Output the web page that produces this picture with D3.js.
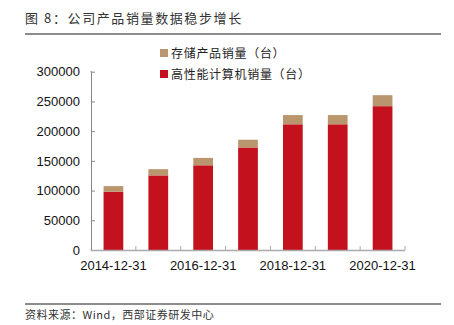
<!DOCTYPE html>
<html><head><meta charset="utf-8">
<script src="https://cdn.jsdelivr.net/npm/d3@7/dist/d3.min.js"></script>
<style>body{margin:0;background:#fff;}svg{display:block;}</style>
</head><body>
<svg id="c" width="454" height="325"></svg>
<script>
const categories = ["2014-12-31","2015-12-31","2016-12-31","2017-12-31","2018-12-31","2019-12-31","2020-12-31"];
const hpcSales = [98000, 125500, 142500, 172500, 211500, 211500, 242000];
const storageSales = [9500, 10500, 12500, 13000, 15500, 15500, 18500];
const yTicks = [0, 50000, 100000, 150000, 200000, 250000, 300000];
const xLabels = ["2014-12-31","2016-12-31","2018-12-31","2020-12-31"];
const seriesNames = ["存储产品销量（台）", "高性能计算机销量（台）"];

(function () {
const svg = d3.select("#c");
const cjk = "'Noto Sans CJK SC', sans-serif";
const lat = "'Liberation Sans', Arial, sans-serif";
const red = "#c4111e", tan = "#b9966e";

// title
svg.append("text").attr("x", 25).attr("y", 23).attr("font-family", cjk).attr("font-size", 13)
  .attr("letter-spacing", 1.6).attr("fill", "#333").text("图 8：公司产品销量数据稳步增长");
svg.append("line").attr("x1", 25).attr("x2", 441).attr("y1", 34).attr("y2", 34)
  .attr("stroke", "#666").attr("stroke-width", 1.5);
svg.append("line").attr("x1", 25).attr("x2", 441).attr("y1", 304).attr("y2", 304)
  .attr("stroke", "#666").attr("stroke-width", 1.5);
svg.append("text").attr("x", 25).attr("y", 319).attr("font-family", cjk).attr("font-size", 11)
  .attr("letter-spacing", 0.5).attr("fill", "#333").text("资料来源：Wind，西部证券研发中心");

const pl = 91, pr = 405, pt = 71.7, pb = 250;
const x = d3.scaleBand().domain(categories).range([pl, pr]).paddingInner(0.56).paddingOuter(0.28);
const y = d3.scaleLinear().domain([0, 300000]).range([pb, pt]);

// bars
const g = svg.append("g");
g.selectAll("rect.r").data(categories).join("rect").attr("class", "r")
  .attr("x", d => x(d)).attr("width", x.bandwidth())
  .attr("y", (d, i) => y(hpcSales[i])).attr("height", (d, i) => y(0) - y(hpcSales[i]))
  .attr("fill", red);
g.selectAll("rect.s").data(categories).join("rect").attr("class", "s")
  .attr("x", d => x(d)).attr("width", x.bandwidth())
  .attr("y", (d, i) => y(hpcSales[i] + storageSales[i])).attr("height", (d, i) => y(hpcSales[i]) - y(hpcSales[i] + storageSales[i]))
  .attr("fill", tan);

// y axis
const ya = svg.append("g").attr("transform", `translate(${pl},0)`)
  .call(d3.axisLeft(y).tickValues(yTicks).tickSize(-4).tickPadding(11).tickFormat(d3.format("d")));
ya.select(".domain").attr("stroke", "#888").attr("d", `M-0.5,${pt}H0.5V${pb}H-0.5`);
ya.selectAll(".tick line").attr("stroke", "#888");
ya.selectAll("text").attr("font-family", lat).attr("font-size", 13).attr("fill", "#111");

// x axis
const xa = svg.append("g").attr("transform", `translate(0,${pb})`);
xa.append("line").attr("x1", pl).attr("x2", pr).attr("y1", 0.5).attr("y2", 0.5).attr("stroke", "#aaa").attr("stroke-width", 1.5);
const step = x.step();
const bounds = categories.slice(1).map(c => x(c) - step * x.paddingInner() / 2);
bounds.push(pr);
xa.selectAll("line.xt").data(bounds).join("line").attr("class", "xt")
  .attr("x1", d => d).attr("x2", d => d).attr("y1", 0).attr("y2", -4).attr("stroke", "#aaa");
xa.selectAll("text.xl").data(xLabels).join("text").attr("class", "xl")
  .attr("x", d => x(d) + x.bandwidth() / 2).attr("y", 20).attr("text-anchor", "middle")
  .attr("font-family", lat).attr("font-size", 13).attr("fill", "#111").text(d => d);

// legend
const lg = svg.append("g");
[[tan, seriesNames[0], 53], [red, seriesNames[1], 74]].forEach(([c, t, yy]) => {
  lg.append("rect").attr("x", 160).attr("y", yy - 4).attr("width", 8).attr("height", 8).attr("fill", c);
  lg.append("text").attr("x", 171).attr("y", yy + 4.5).attr("font-family", cjk).attr("font-size", 12)
    .attr("letter-spacing", 0.7).attr("fill", "#222").text(t);
});
})();
</script>
</body></html>
